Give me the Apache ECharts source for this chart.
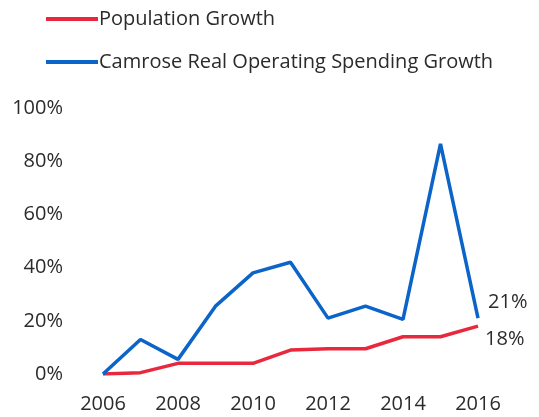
<!DOCTYPE html>
<html><head><meta charset="utf-8">
<script src="https://cdn.jsdelivr.net/npm/echarts@6/dist/echarts.min.js"></script>
<style>html,body{margin:0;padding:0;background:#fff}#c{width:539px;height:417px}</style>
</head><body><div id="c"></div>
<script>
const years = ['2006','2007','2008','2009','2010','2011','2012','2013','2014','2015','2016'];
const populationGrowth = [0, 0.5, 4, 4, 4, 9, 9.5, 9.5, 14, 14, 18];
const spendingGrowth = [0, 13, 5.5, 25.5, 38, 42, 21, 25.5, 20.5, 86.5, 21];
const yTicks = [0, 20, 40, 60, 80, 100];
const font = '"Open Sans", sans-serif';
const txt = '#2b2b2b';

function withEndLabel(arr, offset) {
  return arr.map((v, i) => i === arr.length - 1
    ? {value: v, label: {show: true, position: 'right', offset: offset,
        formatter: Math.round(v) + '%', fontSize: 20, color: txt, fontFamily: font}}
    : v);
}

const chart = echarts.init(document.getElementById('c'));
chart.setOption({
  animation: false,
  legend: {
    orient: 'vertical', left: 41, top: 4, itemGap: 23,
    itemWidth: 52, itemHeight: 4, icon: 'rect',
    textStyle: {fontSize: 20, color: txt, fontFamily: font, padding: [0,0,0,-4]},
    data: ['Population Growth', 'Camrose Real Operating Spending Growth']
  },
  grid: {left: 103, right: 61, top: 108, bottom: 43},
  xAxis: {
    type: 'category', data: years, boundaryGap: false,
    axisLine: {show: false}, axisTick: {show: false},
    axisLabel: {interval: 1, fontSize: 20, color: txt, fontFamily: font, margin: 20}
  },
  yAxis: {
    type: 'value', min: 0, max: 100, interval: 20,
    splitLine: {show: false}, axisLine: {show: false}, axisTick: {show: false},
    axisLabel: {formatter: v => yTicks.includes(v) ? v + '%' : '', fontSize: 20, color: txt, fontFamily: font, margin: 40}
  },
  series: [
    {name: 'Population Growth', type: 'line', data: withEndLabel(populationGrowth, [2, 13]),
     symbol: 'circle', symbolSize: 0.01, showAllSymbol: true,
     lineStyle: {color: '#e8283c', width: 3.5}, itemStyle: {color: '#e8283c'}},
    {name: 'Camrose Real Operating Spending Growth', type: 'line', data: withEndLabel(spendingGrowth, [5, -16]),
     symbol: 'circle', symbolSize: 0.01, showAllSymbol: true,
     lineStyle: {color: '#0b64c8', width: 3.5}, itemStyle: {color: '#0b64c8'}}
  ]
});
</script></body></html>
